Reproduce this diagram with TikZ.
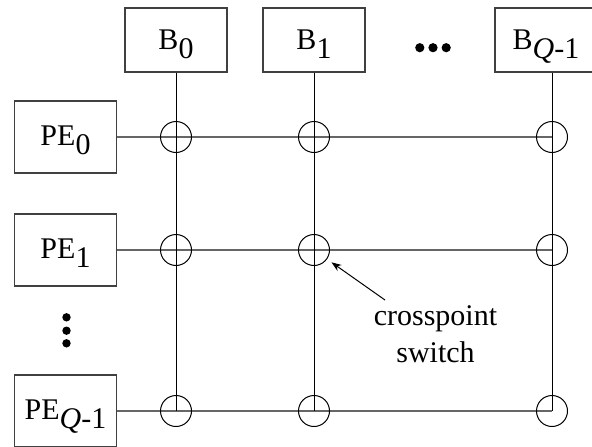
\documentclass[tikz,border=0pt]{standalone}
\usepackage{fontspec}
\setmainfont{Liberation Serif}
\usetikzlibrary{arrows.meta}
% subscripts are set at full size and simply dropped below the baseline
\newcommand\lowsub[1]{\raisebox{-7pt}{#1}}
\tikzset{
  boxstyle/.style={draw=black!75, line width=0.9pt, rectangle, inner sep=0pt,
    minimum width=76.5pt, text depth=0pt,
    font=\fontsize{22.5}{27}\selectfont},
  busbox/.style={boxstyle, minimum height=48pt, text height=14.25pt},
  pebox/.style={boxstyle, minimum width=77pt, minimum height=54pt, text height=12.5pt},
  xpt/.style={draw=black, circle, line width=0.75pt, inner sep=0pt, minimum size=23.25pt},
  rowline/.style={draw=black!60, line width=1.1pt},
  colline/.style={draw=black, line width=0.75pt},
  note/.style={align=center, font=\fontsize{22.5}{27.75}\selectfont},
  pointer/.style={draw=black, line width=0.75pt, -{Stealth[length=7.5pt,width=5.5pt]}},
  dot/.style={fill=black}
}
\begin{document}
\begin{tikzpicture}[x=0.75pt, y=-0.75pt]
\useasboundingbox (0,0) rectangle (592,446);

% bus boxes along the top
\node[busbox] (b0) at (176,40) {B\lowsub{0}};
\node[busbox] (b1) at (314,40) {B\lowsub{1}};
\node[busbox] (bq) at (546,40) {B\lowsub{\textit{Q}-1}};

% processing elements on the left
\node[pebox] (pe0) at (65.5,137) {PE\lowsub{0}};
\node[pebox] (pe1) at (65.5,250) {PE\lowsub{1}};
\node[pebox] (peq) at (65.5,411) {PE\lowsub{\textit{Q}-1}};

% crosspoints of the grid
\coordinate (c00) at (176,137); \coordinate (c01) at (314,137); \coordinate (c02) at (552,137);
\coordinate (c10) at (176,250); \coordinate (c11) at (314,250); \coordinate (c12) at (552,250);
\coordinate (c20) at (176,411); \coordinate (c21) at (314,411); \coordinate (c22) at (552,411);

% horizontal lines from each PE
\draw[rowline] (pe0.east) -- (c02);
\draw[rowline] (pe1.east) -- (c12);
\draw[rowline] (peq.east) -- (c22);

% vertical bus lines
\draw[colline] (b0.south) -- (c20);
\draw[colline] (b1.south) -- (c21);
\draw[colline] (bq.south -| c22) -- (c22);

% crosspoint switches
\foreach \c in {c00,c01,c02,c10,c11,c12,c20,c21,c22}
  \node[xpt] (s\c) at (\c) {};

% ellipsis dots
\foreach \x in {419.8,433,446.2} \fill[dot] (\x,47.7) circle (4.6);
\foreach \y in {317.3,330.7,343.3} \fill[dot] (66.5,\y) circle (4.2);

% annotation (base anchor sits on the last line)
\node[note, anchor=base] (lbl) at (435.5,362) {crosspoint\\switch};
\coordinate (tail) at (385,300);
\draw[pointer, shorten >=4pt] (tail) -- (sc11);
\end{tikzpicture}
\end{document}
